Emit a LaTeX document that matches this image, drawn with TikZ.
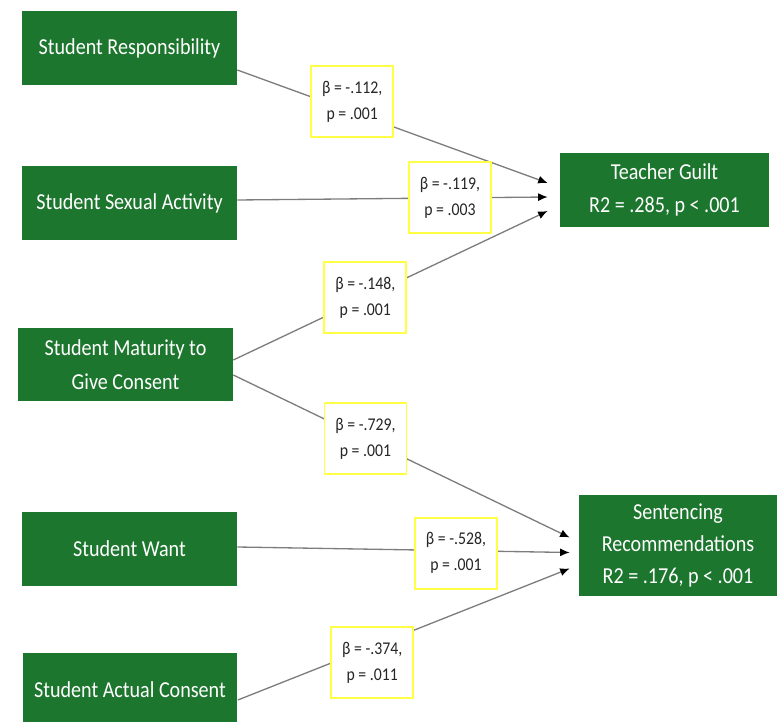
\documentclass[tikz,border=0pt]{standalone}
\usepackage{fontspec}
\setmainfont{Carlito}[FakeStretch=0.88]
\usetikzlibrary{calc,arrows.meta}

\definecolor{boxgreen}{RGB}{29,118,46}
\definecolor{coefyellow}{RGB}{255,255,70}
\definecolor{linkgray}{RGB}{125,125,125}

\tikzstyle{predictor}=[fill=boxgreen,text=white,align=center,inner sep=0pt,minimum width=4.3cm,minimum height=1.48cm,font=\fontsize{13}{19}\selectfont]
\tikzstyle{link}=[draw=linkgray,line width=0.75pt,-{Latex[length=1.9mm,width=1.6mm,color=black]}]
\tikzstyle{coef}=[fill=white,draw=coefyellow,line width=1.1pt,align=center,inner sep=0pt,minimum width=1.64cm,minimum height=1.42cm,text=black!85,font=\fontsize{10.2}{14.7}\selectfont]

\begin{document}
\begin{tikzpicture}[x=0.02cm, y=-0.02cm]
    \useasboundingbox (0,0) rectangle (777,722);
    % predictors on the left
    \foreach \pos/\name/\txt in {{(129.5,48)/resp/Student Responsibility},
                                 {(129.5,203)/sexual/Student Sexual Activity},
                                 {(125.5,364.5)/maturity/{Student Maturity to\\Give Consent}},
                                 {(129.5,549)/want/Student Want},
                                 {(130,690)/consent/Student Actual Consent}}
        \node[predictor] (\name) at \pos {\txt};
    % outcomes on the right
    \node[predictor,minimum width=4.18cm] (guilt) at (664.5,190) {Teacher Guilt\\R2 = .285, p < .001};
    \node[predictor,minimum width=3.96cm,minimum height=2.02cm,font=\fontsize{13}{18}\selectfont] (sentence) at (678,545.5) {Sentencing\\Recommendations\\R2 = .176, p < .001};
    % paths with coefficients
    \foreach \source/\sy/\dest/\dx/\dy/\p/\ys/\weight in {
        resp/22/guilt/-12/-7/0.37/0.2/{β = -.112,\\p = .001},
        sexual/-3/guilt/-12/7/0.685/0/{β = -.119,\\p = .003},
        maturity/-4.5/guilt/-12/21/0.42/0/{β = -.148,\\p = .001},
        maturity/10.5/sentence/-9/-8/0.393/0/{β = -.729,\\p = .001},
        want/-2/sentence/-9/7/0.658/-0.05/{β = -.528,\\p = .001},
        consent/10/sentence/-9/23/0.405/-0.32/{β = -.374,\\p = .011}}
        \path[link] ($(\source.east)+(0,\sy)$) -- node[coef,pos=\p,yshift=\ys cm] {\weight} ($(\dest.west)+(\dx,\dy)$);
\end{tikzpicture}
\end{document}
